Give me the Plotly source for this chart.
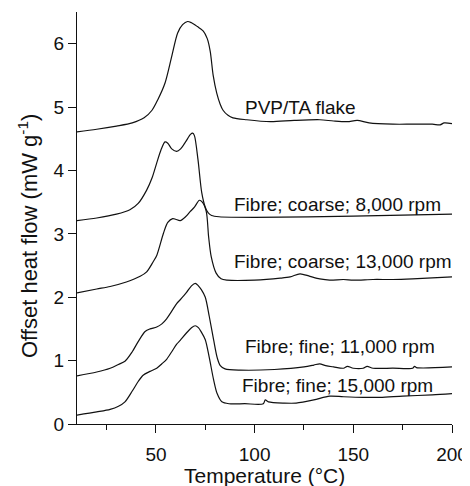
import plotly.graph_objects as go

# PVP/TA flake
flake_x = [10, 20, 30, 38, 44, 48, 51, 54.6, 58, 61, 63.5, 66, 68, 71, 74, 76, 77.5, 79, 80.8, 82.5, 84, 86.5, 89, 96,
           108, 120, 133, 140, 147, 152, 158, 170, 180, 190, 194, 196, 200]
flake_y = [4.61, 4.65, 4.70, 4.75, 4.83, 4.95, 5.12, 5.38, 5.80, 6.17, 6.30, 6.35, 6.33, 6.27, 6.20, 6.08, 5.88, 5.50, 5.22, 5.05, 4.95, 4.87, 4.83, 4.80,
           4.77, 4.79, 4.80, 4.78, 4.77, 4.79, 4.75, 4.73, 4.73, 4.73, 4.72, 4.75, 4.74]

# Fibre; coarse; 8,000 rpm
c8_x = [10, 20, 30, 36.8, 41, 45.3, 48, 50.4, 52.5, 54.6, 56, 58, 60.5, 62.5, 65, 67.5, 68.6, 69.5, 71.3, 73.2, 74.9, 76.5, 78.2, 82,
        100, 150, 200]
c8_y = [3.21, 3.25, 3.31, 3.38, 3.48, 3.69, 3.88, 4.12, 4.32, 4.45, 4.43, 4.34, 4.30, 4.34, 4.45, 4.57, 4.59, 4.55, 4.17, 3.65, 3.43, 3.33, 3.29, 3.27,
        3.26, 3.28, 3.31]

# Fibre; coarse; 13,000 rpm
c13_x = [10, 20, 26.8, 35, 42, 45.3, 48.6, 50.4, 53.8, 56, 58.5, 60, 62.3, 65, 67.3, 69.5, 72, 73.5, 75.5, 76.7, 78, 80.5, 83, 86,
         100, 113, 118, 123, 128, 133, 138, 145, 150, 160, 170, 180, 200]
c13_y = [2.07, 2.13, 2.17, 2.24, 2.33, 2.40, 2.56, 2.66, 3.01, 3.18, 3.24, 3.23, 3.21, 3.27, 3.35, 3.42, 3.53, 3.50, 3.35, 2.95, 2.64, 2.38, 2.29, 2.27,
         2.27, 2.30, 2.32, 2.37, 2.33, 2.29, 2.27, 2.28, 2.27, 2.28, 2.28, 2.29, 2.32]

# Fibre; fine; 11,000 rpm
f11_x = [10, 20, 26.8, 31, 34.3, 38, 41, 44.5, 47, 50.4, 53, 55.4, 58, 60.5, 62.3, 64, 65.6, 68, 69.9, 71.5, 73, 75, 77, 79.2, 81, 82.6, 85, 92.7,
         110, 125, 130, 133, 136, 140, 145, 147, 150, 155, 157, 160, 170, 180, 181, 182, 200]
f11_y = [0.76, 0.82, 0.88, 0.94, 0.99, 1.14, 1.30, 1.46, 1.50, 1.53, 1.58, 1.66, 1.78, 1.90, 1.96, 2.02, 2.08, 2.18, 2.22, 2.18, 2.12, 2.00, 1.70, 1.33, 1.05, 0.92, 0.87, 0.85,
         0.86, 0.90, 0.93, 0.95, 0.92, 0.90, 0.88, 0.91, 0.88, 0.88, 0.91, 0.88, 0.88, 0.88, 0.91, 0.89, 0.90]

# Fibre; fine; 15,000 rpm
f15_x = [10, 20, 26.8, 31, 34.3, 38, 41, 43.5, 47, 50.4, 53, 55.4, 58, 60.5, 62.3, 65, 68, 69.9, 71.5, 73, 75, 77, 79.2, 81, 83.4, 87, 95,
         104.4, 105.4, 107, 115, 121, 130, 138, 145, 155, 163.6, 175, 190, 200]
f15_y = [0.14, 0.19, 0.23, 0.28, 0.35, 0.52, 0.67, 0.77, 0.83, 0.88, 0.95, 1.02, 1.14, 1.26, 1.32, 1.42, 1.52, 1.55, 1.52, 1.45, 1.33, 1.05, 0.70, 0.48, 0.35, 0.32, 0.32,
         0.32, 0.38, 0.35, 0.33, 0.33, 0.38, 0.44, 0.43, 0.42, 0.42, 0.44, 0.46, 0.48]

labels = ["PVP/TA flake", "Fibre; coarse; 8,000 rpm", "Fibre; coarse; 13,000 rpm",
          "Fibre; fine; 11,000 rpm", "Fibre; fine; 15,000 rpm"]
label_x = [123, 142, 145, 143.4, 142]
label_y = [5.0, 3.47, 2.56, 1.22, 0.60]

x_ticks = [50, 100, 150, 200]
y_ticks = [0, 1, 2, 3, 4, 5, 6]

series = [(flake_x, flake_y), (c8_x, c8_y), (c13_x, c13_y), (f11_x, f11_y), (f15_x, f15_y)]

fig = go.Figure()
for (xs, ys), name in zip(series, labels):
    fig.add_trace(go.Scatter(x=xs, y=ys, mode="lines", name=name,
                             line=dict(color="#111111", width=1.2, shape="spline", smoothing=0.8),
                             showlegend=False, hoverinfo="skip"))

for txt, lx, ly in zip(labels, label_x, label_y):
    fig.add_annotation(x=lx, y=ly, text=txt, showarrow=False, xanchor="center", yanchor="middle",
                       font=dict(size=19, color="#111111"))

# axis titles
fig.add_annotation(xref="paper", yref="paper", x=0.5, y=-0.124, text="Temperature (°C)",
                   showarrow=False, xanchor="center", yanchor="middle", font=dict(size=21, color="#111111"))
fig.add_annotation(xref="paper", yref="paper", x=-0.131, y=0.456, text="Offset heat flow (mW g<sup>-1</sup>)",
                   showarrow=False, xanchor="center", yanchor="middle", textangle=-90,
                   font=dict(size=22, color="#111111"))

font_family = "Liberation Sans, Arial, sans-serif"
fig.update_layout(
    width=462, height=478,
    margin=dict(l=69, r=18, t=4, b=62),
    paper_bgcolor="white", plot_bgcolor="white",
    font=dict(family=font_family, color="#111111", size=19),
    xaxis=dict(range=[10, 200], tickvals=x_ticks, ticks="outside", ticklen=8, tickwidth=1.2,
               tickcolor="#111111", showline=True, linecolor="#111111", linewidth=1.2,
               showgrid=False, zeroline=False, tickfont=dict(size=19), automargin=False,
               ticklabelstandoff=5,
               minor=dict(ticks="outside", ticklen=5, tickwidth=1.2, tickcolor="#111111", dtick=25, tick0=0, showgrid=False)),
    yaxis=dict(range=[0, 6.5], tickvals=y_ticks, ticks="outside", ticklen=8, tickwidth=1.2,
               tickcolor="#111111", showline=True, linecolor="#111111", linewidth=1.2,
               showgrid=False, zeroline=False, tickfont=dict(size=19), automargin=False),
)

fig.write_html("out.html")
